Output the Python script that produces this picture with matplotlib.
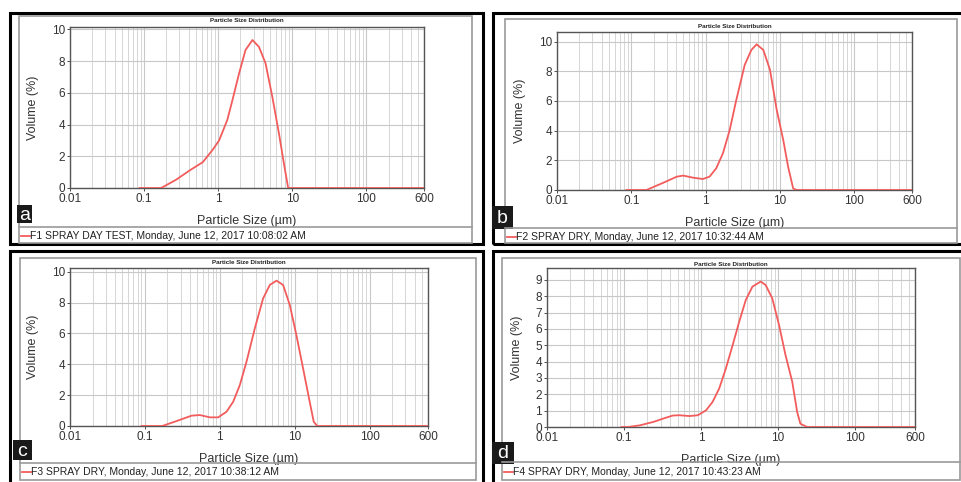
import matplotlib

matplotlib.use("Agg")
import matplotlib.pyplot as plt
from matplotlib.patches import Rectangle
from matplotlib.lines import Line2D
import matplotlib.ticker as mticker
import numpy as np

plt.rcParams["font.family"] = ["Liberation Sans", "DejaVu Sans"]

# particle sizes (um) and volume (%) read from the four runs
size_a = [0.087, 0.17, 0.27, 0.41, 0.62, 0.84, 1.03, 1.33, 1.56, 1.91, 2.34, 2.9,
          3.55, 4.36, 5.37, 6.6, 7.7, 8.8, 20, 100, 600]
vol_a = [0, 0, 0.52, 1.1, 1.63, 2.4, 3.0, 4.3, 5.55, 7.2, 8.7, 9.33,
         8.9, 7.86, 5.77, 3.46, 1.57, 0, 0, 0, 0]

size_b = [0.086, 0.16, 0.27, 0.41, 0.5, 0.68, 0.92, 1.13, 1.39, 1.71, 2.11, 2.59,
          3.36, 4.13, 4.86, 5.98, 7.36, 9.06, 11.1, 12.9, 15.1, 16.9, 100, 600]
vol_b = [0, 0, 0.49, 0.9, 0.97, 0.83, 0.74, 0.9, 1.46, 2.47, 4.04, 6.07,
         8.43, 9.44, 9.82, 9.44, 8.1, 5.4, 3.37, 1.57, 0.1, 0, 0, 0]

size_c = [0.09, 0.17, 0.264, 0.42, 0.54, 0.74, 0.95, 1.23, 1.51, 1.85, 2.27, 2.93,
          3.78, 4.64, 5.7, 6.99, 8.58, 10.5, 12.9, 15.8, 17.9, 19.9, 100, 600]
vol_c = [0, 0, 0.32, 0.67, 0.71, 0.56, 0.56, 0.93, 1.58, 2.66, 4.17, 6.33,
         8.27, 9.14, 9.42, 9.14, 7.84, 5.9, 3.74, 1.58, 0.28, 0, 0, 0]

size_d = [0.093, 0.113, 0.16, 0.24, 0.34, 0.43, 0.52, 0.71, 0.91, 1.16, 1.41, 1.72,
          2.1, 2.57, 3.13, 3.81, 4.65, 5.95, 6.9, 8.41, 10.3, 12.5, 15.3, 17.7,
          19.5, 23.8, 100, 600]
vol_d = [0, 0, 0.1, 0.31, 0.55, 0.7, 0.72, 0.67, 0.72, 1.02, 1.53, 2.35,
         3.58, 5.0, 6.44, 7.77, 8.59, 8.9, 8.69, 7.87, 6.24, 4.4, 2.76, 0.92,
         0.2, 0, 0, 0]

x_ticks = [0.01, 0.1, 1, 10, 100, 600]
x_tick_labels = ["0.01", "0.1", "1", "10", "100", "600"]

legends = [
    "F1 SPRAY DAY TEST, Monday, June 12, 2017 10:08:02 AM",
    "F2 SPRAY DRY, Monday, June 12, 2017 10:32:44 AM",
    "F3 SPRAY DRY, Monday, June 12, 2017 10:38:12 AM",
    "F4 SPRAY DRY, Monday, June 12, 2017 10:43:23 AM",
]
letters = ["a", "b", "c", "d"]

W, H = 961, 482
fig = plt.figure(figsize=(W / 100, H / 100), dpi=100)


def fx(x):
    return x / W


def fy(y):
    return 1 - y / H


def rect(l, t, r, b, **kw):
    fig.add_artist(Rectangle((fx(l), fy(b)), fx(r - l), (b - t) / H,
                             transform=fig.transFigure, fill=False, **kw))


def hline(y, l, r, **kw):
    fig.add_artist(Line2D([fx(l), fx(r)], [fy(y), fy(y)],
                          transform=fig.transFigure, **kw))


red = "#f25c5c"

# layout per panel: outer frame, gray box, separator y, axes box, title y,
# letter box, legend text y, y ticks, ymax
panels = [
    dict(outer=(10, 13, 483, 244), box=(19, 16, 472, 243), sep=227,
         ax=(70, 27, 424, 188), title=21, letter=(17, 205, 32, 223), leg=236,
         yt=range(0, 11, 2), ymax=10.15, data=(size_a, vol_a)),
    dict(outer=(493, 13, 966, 244), box=(505, 19, 957, 243), sep=228,
         ax=(557, 32, 912, 190), title=27, letter=(492, 206, 513, 229), leg=237,
         yt=range(0, 11, 2), ymax=10.65, data=(size_b, vol_b)),
    dict(outer=(10, 251, 483, 490), box=(20, 258, 476, 480), sep=463,
         ax=(70, 268, 428, 426), title=263, letter=(13, 440, 32, 460), leg=472,
         yt=range(0, 11, 2), ymax=10.24, data=(size_c, vol_c)),
    dict(outer=(493, 251, 966, 490), box=(502, 258, 960, 480), sep=462,
         ax=(547, 268, 915, 427), title=264, letter=(492, 442, 514, 464), leg=472,
         yt=range(0, 10), ymax=9.73, data=(size_d, vol_d)),
]

for i, p in enumerate(panels):
    rect(*p["outer"], edgecolor="black", linewidth=2.2)
    rect(*p["box"], edgecolor="#9a9a9a", linewidth=1.2)
    hline(p["sep"], p["box"][0], p["box"][2], color="#9a9a9a", linewidth=1.2)

    l, t, r, b = p["ax"]
    ax = fig.add_axes([fx(l), fy(b), fx(r - l), (b - t) / H])
    sx, sy = p["data"]
    ax.plot(sx, sy, color=red, linewidth=1.3, zorder=3)
    ax.set_xscale("log")
    ax.set_xlim(0.01, 600)
    ax.set_ylim(0, p["ymax"])
    ax.xaxis.set_major_locator(mticker.FixedLocator(x_ticks))
    ax.xaxis.set_major_formatter(mticker.FixedFormatter(x_tick_labels))
    ax.xaxis.set_minor_locator(mticker.LogLocator(base=10, subs=np.arange(2, 10), numticks=20))
    ax.xaxis.set_minor_formatter(mticker.NullFormatter())
    ax.set_yticks(list(p["yt"]))
    ax.grid(True, which="major", axis="x", color="#c8c8c8", linewidth=0.8)
    ax.grid(True, which="minor", axis="x", color="#d6d6d6", linewidth=0.7)
    ax.grid(True, which="major", axis="y", color="#c8c8c8", linewidth=0.8)
    ax.set_axisbelow(True)
    ax.tick_params(which="both", length=2, width=0.6, colors="#333333",
                   labelsize=8.5, pad=1.5)
    ax.tick_params(which="minor", length=0)
    for s in ax.spines.values():
        s.set_color("#555555")
        s.set_linewidth(1.0)
    ax.set_xlabel("Particle Size (µm)", fontsize=9, color="#333333", labelpad=7)
    ax.set_ylabel("Volume (%)", fontsize=9, color="#333333", labelpad=9)

    fig.text(fx((l + r) / 2), fy(p["title"]), "Particle Size Distribution",
             ha="center", va="center", fontsize=4.5, fontweight="bold", color="#222222")

    # letter tag
    ll, lt, lr, lb = p["letter"]
    fig.add_artist(Rectangle((fx(ll), fy(lb)), fx(lr - ll), (lb - lt) / H,
                             transform=fig.transFigure, facecolor="#1a1a1a",
                             edgecolor="none"))
    fig.text(fx((ll + lr) / 2), fy((lt + lb) / 2 + 1), letters[i], ha="center",
             va="center", fontsize=14, color="white")

    # legend entry
    bx = p["box"][0]
    hline(p["leg"], bx + 2, bx + 11, color=red, linewidth=1.3)
    fig.text(fx(bx + 11), fy(p["leg"]), legends[i], ha="left", va="center",
             fontsize=7.5, color="#222222")

fig.savefig("out.png", dpi=100)
